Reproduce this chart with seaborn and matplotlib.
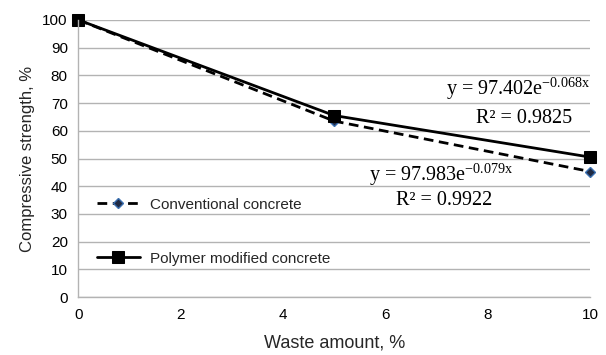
import matplotlib
matplotlib.use("Agg")
import matplotlib.pyplot as plt
import seaborn as sns
import pandas as pd

waste = [0, 5, 10]
conventional = [100, 63.5, 45.3]
polymer = [100, 65.5, 50.5]
series_names = ["Conventional concrete", "Polymer modified concrete"]
x_ticks = [0, 2, 4, 6, 8, 10]
y_ticks = [0, 10, 20, 30, 40, 50, 60, 70, 80, 90, 100]

sns.set_style("white")
plt.rcParams['font.family'] = ['Liberation Sans', 'DejaVu Sans']
plt.rcParams['mathtext.fontset'] = 'custom'
plt.rcParams['mathtext.rm'] = 'Liberation Serif'
plt.rcParams['mathtext.it'] = 'Liberation Serif'

df = pd.DataFrame({
    "x": waste * 2,
    "y": conventional + polymer,
    "s": [series_names[0]] * 3 + [series_names[1]] * 3,
})

fig = plt.figure(figsize=(6.06, 3.55), dpi=100)
ax = fig.add_axes([0.129, 0.163, 0.845, 0.781])

c = df[df.s == series_names[0]]
p = df[df.s == series_names[1]]
sns.lineplot(data=c, x="x", y="y", ax=ax, color="black", lw=2.0,
             linestyle=(0, (3.5, 2)), marker="D", markersize=5.5,
             markerfacecolor="#1f2a44", markeredgecolor="#3a6fb0",
             markeredgewidth=1, label=series_names[0], clip_on=False)
sns.lineplot(data=p, x="x", y="y", ax=ax, color="black", lw=2.0,
             marker="s", markersize=9, markerfacecolor="black",
             markeredgecolor="black", label=series_names[1], clip_on=False)

ax.set_xlim(0, 10)
ax.set_ylim(0, 100)
ax.set_xticks(x_ticks)
ax.set_yticks(y_ticks)
ax.yaxis.grid(True, color="#b3b3b3", lw=1)
ax.set_axisbelow(True)
for s in ["top", "right"]:
    ax.spines[s].set_visible(False)
for s in ["left", "bottom"]:
    ax.spines[s].set_color("#b3b3b3")
    ax.spines[s].set_linewidth(1)
ax.tick_params(axis="both", labelsize=11, length=4, color="#b3b3b3",
               labelcolor="black", width=1)
ax.set_xlabel("Waste amount, %", fontsize=13, labelpad=9)
ax.set_ylabel("Compressive strength, %", fontsize=12, labelpad=5)

leg = ax.legend(loc="center left", bbox_to_anchor=(0.025, 0.236),
                borderaxespad=0, frameon=False,
                fontsize=11, labelspacing=2.6, handlelength=2.8,
                handletextpad=0.65)

tf = dict(fontsize=14.5, family="Liberation Serif", color="black")
ax.text(1.0, 0.751, r"y = 97.402e$^{-0.068x}$", transform=ax.transAxes,
        ha="right", va="center", **tf)
ax.text(0.965, 0.643, "R\u00b2 = 0.9825", transform=ax.transAxes,
        ha="right", va="center", **tf)
ax.text(0.850, 0.44, r"y = 97.983e$^{-0.079x}$", transform=ax.transAxes,
        ha="right", va="center", **tf)
ax.text(0.809, 0.347, "R\u00b2 = 0.9922", transform=ax.transAxes,
        ha="right", va="center", **tf)

fig.savefig("out.png", dpi=100)
